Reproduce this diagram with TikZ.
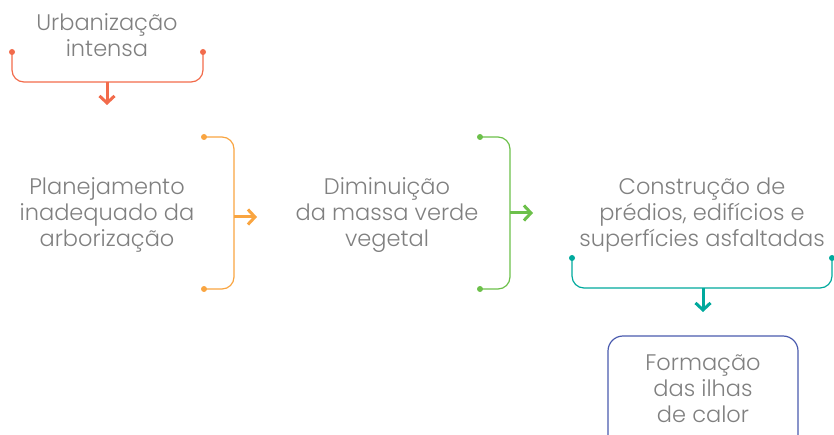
\documentclass[tikz,border=0pt]{standalone}
\usepackage{fontspec}
\setmainfont{Poppins}[UprightFont=* Light]
\usepackage{xcolor}
\usetikzlibrary{arrows.meta}
\usetikzlibrary{calc}

\definecolor{urbcol}{HTML}{F26B4B}
\definecolor{plancol}{HTML}{F9A541}
\definecolor{dimcol}{HTML}{6CC04A}
\definecolor{constcol}{HTML}{00A99D}
\definecolor{ilhacol}{HTML}{4A5BAE}
\definecolor{txtcol}{HTML}{808080}

\tikzset{
    etapa/.style={align=center, text=txtcol, font=\fontsize{22.5}{26}\selectfont, inner sep=0pt},
    chave/.style={line width=1.2pt, rounded corners=12pt},
    ponta/.style={circle, fill, inner sep=0pt, minimum size=6pt},
    seta/.style={line width=3pt, -{Straight Barb[length=7pt, width=15pt, line width=3pt]}}
}

\begin{document}
\begin{tikzpicture}[x=1pt, y=-1pt]
        \useasboundingbox (0,0) rectangle (834,435);
        % textos
        \node[etapa] (urb) at (107,35) {Urbanização\\intensa};
        \node[etapa] (plan) at (107,215) {Planejamento\\inadequado da\\arborização};
        \node[etapa] (dim) at (387,215) {Diminuição\\da massa verde\\vegetal};
        \node[etapa] (const) at (702,215) {Construção de\\prédios, edifícios e\\superfícies asfaltadas};
        % chave 1
        \coordinate (urbA) at (12,52);
        \coordinate (urbB) at (203,52);
        \coordinate (urbM) at (107,82);
        \coordinate (urbS) at (107,105);
        \draw[chave, urbcol] (urbA) |- (urbM) -| (urbB);
        \node[ponta, urbcol] at (urbA) {};
        \node[ponta, urbcol] at (urbB) {};
        \draw[seta, urbcol] (urbM) -- (urbS);
        % chave 2
        \coordinate (planA) at (204,137);
        \coordinate (planB) at (204,289);
        \coordinate (planM) at (234,217);
        \coordinate (planS) at (257,217);
        \draw[chave, plancol] (planA) -| (planM) |- (planB);
        \node[ponta, plancol] at (planA) {};
        \node[ponta, plancol] at (planB) {};
        \draw[seta, plancol] (planM) -- (planS);
        % chave 3
        \coordinate (dimA) at (480,137);
        \coordinate (dimB) at (480,289);
        \coordinate (dimM) at (510,213);
        \coordinate (dimS) at (533,213);
        \draw[chave, dimcol] (dimA) -| (dimM) |- (dimB);
        \node[ponta, dimcol] at (dimA) {};
        \node[ponta, dimcol] at (dimB) {};
        \draw[seta, dimcol] (dimM) -- (dimS);
        % chave 4
        \coordinate (constA) at (572,258);
        \coordinate (constB) at (832,258);
        \coordinate (constM) at (703,288);
        \coordinate (constS) at (703,312);
        \draw[chave, constcol] (constA) |- (constM) -| (constB);
        \node[ponta, constcol] at (constA) {};
        \node[ponta, constcol] at (constB) {};
        \draw[seta, constcol] (constM) -- (constS);
        % caixa final
        \draw[line width=1.2pt, ilhacol, rounded corners=15pt] (608,450) -- (608,336) -- (798,336) -- (798,450);
        \node[etapa] (ilha) at (703,389) {Formação\\das ilhas\\de calor};
    \end{tikzpicture}
\end{document}
